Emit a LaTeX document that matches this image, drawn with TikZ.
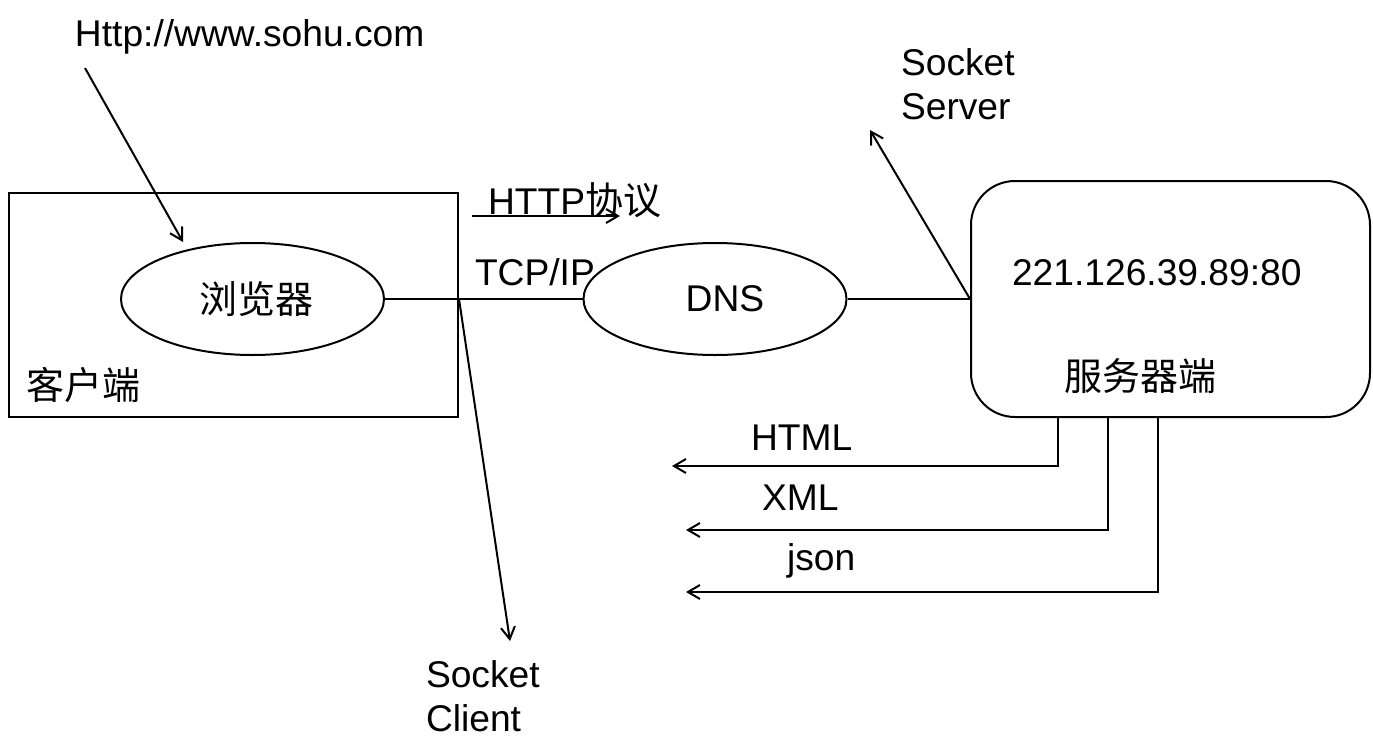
\documentclass[tikz,border=0pt]{standalone}
\usepackage{fontspec}
\setmainfont{Liberation Sans}
\newfontfamily\cjk{Noto Sans CJK SC}
\usetikzlibrary{shapes.geometric,arrows.meta}
\begin{document}
\begin{tikzpicture}[x=0.5pt,y=-0.5pt,line width=1pt,
  lbl/.style={font=\fontsize{18.6}{22}\selectfont,inner sep=0pt,anchor=west,align=left},
  cjklbl/.style={font=\cjk\fontsize{19}{22}\selectfont,inner sep=0pt},
  oval/.style={draw,ellipse,minimum width=131.5pt,minimum height=56pt,inner sep=0pt},
  arr/.style={-{Straight Barb[length=6pt,width=7pt]}}]
\useasboundingbox (0,0) rectangle (1373,750);
% frames
\node[draw,minimum width=224.5pt,minimum height=112pt,inner sep=0pt] (client) at (233.5,305) {};
\node[draw,rounded corners=22pt,minimum width=199.5pt,minimum height=118pt,inner sep=0pt] (server) at (1170.5,299) {};
\node[oval] (browser) at (252.5,299) {};
\node[cjklbl] (browsertxt) at (256,299) {浏览器};
\node[oval] (dns) at (715,299) {};
\node[lbl,anchor=center] (dnstxt) at (725,299) {DNS};
% labels
\node[cjklbl,anchor=west] (clienttxt) at (25,385) {客户端};
\node[lbl] (url) at (74,37) {Http://www.sohu.com};
\node[lbl] (http) at (487,200) {HTTP{\cjk\fontsize{19}{22}\selectfont 协议}};
\node[lbl] (tcp) at (474,272) {TCP/IP};
\node[lbl] (ip) at (1011,273) {221.126.39.89:80};
\node[cjklbl,anchor=west] (servertxt) at (1063,376) {服务器端};
\node[lbl] (sserver) at (900,84) {Socket\\Server};
\node[lbl] (sclient) at (425,696) {Socket\\Client};
\node[lbl] (html) at (750,438) {HTML};
\node[lbl] (xml) at (761,498) {XML};
\node[lbl] (json) at (786,561) {json};
% coordinates
\coordinate (urlstart) at (85,68);
\coordinate (urlend) at (183,242);
\coordinate (j) at (client.east |- browser.east);
\coordinate (clientend) at (510,641);
\coordinate (serverend) at (870,130);
\coordinate (httpa) at (472,216);
\coordinate (httpb) at (620,216);
\coordinate (h1) at (1058,466);
\coordinate (h2) at (1108,530);
\coordinate (h3) at (1158,592);
\coordinate (e1) at (672,466);
\coordinate (e2) at (686,530);
\coordinate (e3) at (686,592);
% connectors
\draw[arr] (urlstart) -- (urlend);
\draw (browser.east) -- (dns.west);
\draw (dns.east) -- (server.west);
\draw[arr] (j) -- (clientend);
\draw[arr] (server.west) -- (serverend);
\draw[arr] (httpa) -- (httpb);
\draw[arr] (h1 |- server.south) -- (h1) -- (e1);
\draw[arr] (h2 |- server.south) -- (h2) -- (e2);
\draw[arr] (h3 |- server.south) -- (h3) -- (e3);
\end{tikzpicture}
\end{document}
